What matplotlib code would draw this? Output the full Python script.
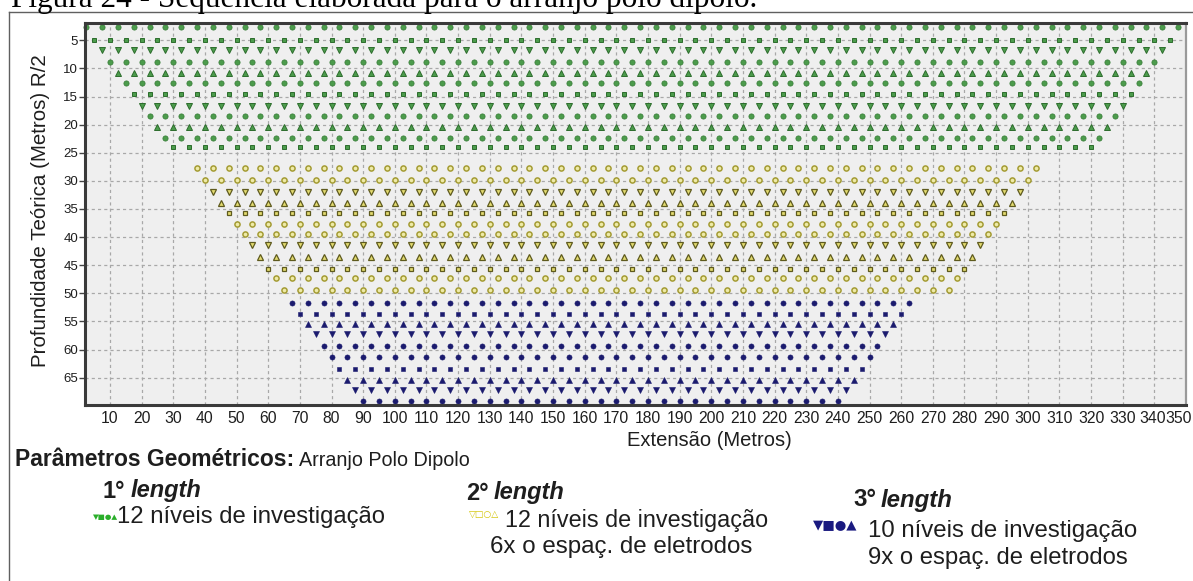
import numpy as np
import matplotlib
matplotlib.use("Agg")
import matplotlib.pyplot as plt
from matplotlib.transforms import Affine2D, ScaledTranslation
from matplotlib.lines import Line2D

W, H = 1193, 581

# --- electrode sequence, pole-dipole array -------------------------------
SPACING = 5.0  # metres between consecutive readings on a level

# 1st length: 12 levels
green_depth = [2.6, 5.0, 6.7, 8.8, 10.8, 12.6, 14.6, 16.6, 18.4, 20.5, 22.3, 24.0]
green_start = [2.5, 5.0, 7.5, 10.0, 12.5, 15.0, 17.5, 20.0, 22.5, 25.0, 27.5, 30.0]
green_end = [347.5, 345.0, 342.5, 340.0, 337.5, 335.0, 332.5, 330.0, 327.5, 325.0, 322.5, 320.0]
green_marker = ["o", "s", "v", "o", "^", "o", "s", "v", "o", "^", "o", "s"]

# 2nd length: 12 levels, 6x electrode spacing
yellow_depth = [27.8, 29.9, 31.9, 33.9, 35.7, 37.6, 39.5, 41.4, 43.6, 45.6, 47.3, 49.4]
yellow_start = [37.5, 40.0, 42.5, 45.0, 47.5, 50.0, 52.5, 55.0, 57.5, 60.0, 62.5, 65.0]
yellow_end = [302.5, 300.0, 297.5, 295.0, 292.5, 290.0, 287.5, 285.0, 282.5, 280.0, 277.5, 275.0]
yellow_marker = ["o", "o", "v", "^", "s", "o", "o", "v", "^", "s", "o", "o"]

# 3rd length: 10 levels, 9x electrode spacing
blue_depth = [51.7, 53.6, 55.5, 57.2, 59.3, 61.4, 63.5, 65.4, 67.2, 69.1]
blue_start = [67.5, 70.0, 72.5, 75.0, 77.5, 80.0, 82.5, 85.0, 87.5, 90.0]
blue_end = [262.5, 260.0, 257.5, 255.0, 252.5, 250.0, 247.5, 245.0, 242.5, 240.0]
blue_marker = ["o", "s", "^", "v", "o", "o", "s", "^", "v", "o"]

x_ticks = list(range(10, 351, 10))
y_ticks = list(range(5, 66, 5))

plt.rcParams["font.family"] = ["Liberation Sans", "DejaVu Sans"]

fig = plt.figure(figsize=(W / 100, H / 100), dpi=100)
fig.patch.set_facecolor("white")
px = Affine2D().scale(1 / W, -1 / H).translate(0, 1) + fig.transFigure

ax_l, ax_r, ax_t, ax_b = 85, 1186, 23, 405
ax = fig.add_axes([ax_l / W, 1 - ax_b / H, (ax_r - ax_l) / W, (ax_b - ax_t) / H])
ax.set_facecolor("#efefef")
ax.set_xlim(2.1, 350)
ax.set_ylim(69.85, 1.93)

ax.set_xticks(x_ticks)
ax.set_yticks(y_ticks)
ax.tick_params(axis="x", length=0, pad=4, labelsize=11.3, labelcolor="#1e1e1e")
ax.tick_params(axis="y", length=4, width=1, pad=1, labelsize=9.5,
               labelcolor="#1e1e1e", color="#444444")
ax.grid(True, color="#a8a8a8", linestyle=(0, (2.5, 2.5)), linewidth=0.9)
ax.set_axisbelow(True)

# nudge the two last x labels so they stay inside the figure
xlabels = ax.get_xticklabels()
for lab, dx in ((xlabels[-2], -2), (xlabels[-1], -7)):
    lab.set_transform(lab.get_transform()
                      + ScaledTranslation(dx / 100, 0, fig.dpi_scale_trans))

for side in ("top", "left", "bottom"):
    ax.spines[side].set_color("#3a3a3a")
    ax.spines[side].set_linewidth(2.2)
ax.spines["right"].set_color("#9a9a9a")
ax.spines["right"].set_linewidth(1.6)

styles = {
    "green": {"o": dict(mfc="#4c9c4c", mec="#3a803a", mew=0.6),
              "s": dict(mfc="#4c9c4c", mec="#2c6c2c", mew=0.7),
              "v": dict(mfc="#4c9c4c", mec="#2c6c2c", mew=0.7),
              "^": dict(mfc="#4c9c4c", mec="#2c6c2c", mew=0.7)},
    "yellow": {"o": dict(mfc="#efeba8", mec="#a49c34", mew=1.1),
               "s": dict(mfc="#e4dc70", mec="#5e5a1e", mew=0.9),
               "v": dict(mfc="#e4dc70", mec="#5e5a1e", mew=0.9),
               "^": dict(mfc="#e4dc70", mec="#5e5a1e", mew=0.9)},
    "blue": {m: dict(mfc="#1b1b6e", mec="#1b1b6e", mew=0.4) for m in "os^v"},
}
sizes = {"o": 3.7, "s": 3.4, "v": 4.7, "^": 4.7}


def draw_group(depths, starts, ends, markers, style):
    for d, s, e, m in zip(depths, starts, ends, markers):
        xs = np.arange(s, e + SPACING / 2, SPACING)
        ax.plot(xs, np.full_like(xs, d), linestyle="none", marker=m,
                ms=sizes[m], clip_on=False, **style[m])


draw_group(green_depth, green_start, green_end, green_marker, styles["green"])
draw_group(yellow_depth, yellow_start, yellow_end, yellow_marker, styles["yellow"])
draw_group(blue_depth, blue_start, blue_end, blue_marker, styles["blue"])

# axis titles
fig.text(709, 440, "Extensão (Metros)", transform=px, ha="center", va="center",
         fontsize=14.5, color="#1e1e1e")
fig.text(41, 211, "Profundidade Teórica (Metros) R/2", transform=px, ha="center",
         va="center", rotation=90, fontsize=14.8, color="#1e1e1e")

# caption, partly outside the top edge
fig.text(11, 7.5, "Figura 24 - Sequência elaborada para o arranjo polo dipolo.",
         transform=px, ha="left", va="baseline", fontsize=22.5,
         family="Liberation Serif", color="black")

# outer frame
fig.add_artist(Line2D([8.5, 8.5], [11.7, H + 5], transform=px, color="#606060", lw=1.0))
fig.add_artist(Line2D([8.5, W + 5], [11.7, 11.7], transform=px, color="#606060", lw=1.0))

# description block
fig.canvas.draw()
r = fig.canvas.get_renderer()
t1 = fig.text(15, 460, "Parâmetros Geométricos:", transform=px, ha="left",
              va="center", fontsize=16.5, fontweight="bold", color="#1e1e1e")
bb = t1.get_window_extent(r)
fig.text(bb.x1 + 5, 461, "Arranjo Polo Dipolo", transform=px, ha="left",
         va="center", fontsize=14.2, color="#1e1e1e")


def heading(x, y, num, size):
    t = fig.text(x, y, num, transform=px, ha="left", va="center", fontsize=size,
                 fontweight="bold", color="#1e1e1e")
    b = t.get_window_extent(r)
    fig.text(b.x1 + 5, y, "length", transform=px, ha="left", va="center",
             fontsize=size, fontweight="bold", style="italic", color="#1e1e1e")


heading(103, 491, "1°", 17)
heading(466, 493, "2°", 17)
heading(853, 500, "3°", 17.3)

body = dict(transform=px, ha="left", va="center", color="#1e1e1e")
fig.text(117, 517, "12 níveis de investigação", fontsize=17.2, **body)
fig.text(505, 520, "12 níveis de investigação", fontsize=16.8, **body)
fig.text(490, 547, "6x o espaç. de eletrodos", fontsize=17.4, **body)
fig.text(868, 531, "10 níveis de investigação", fontsize=17.3, **body)
fig.text(868, 558, "9x o espaç. de eletrodos", fontsize=17.2, **body)

glyph = dict(transform=px, ha="left", va="center", family="DejaVu Sans")
fig.text(93, 517, "▼■●▲", color="#2aae2a", fontsize=5.4, **glyph)
fig.text(469, 514, "▽□○△", color="#d2c400", fontsize=6.5, **glyph)
fig.text(813, 526, "▼■●▲", color="#1a1a80", fontsize=9.5, **glyph)

fig.savefig("out.png", dpi=100)
